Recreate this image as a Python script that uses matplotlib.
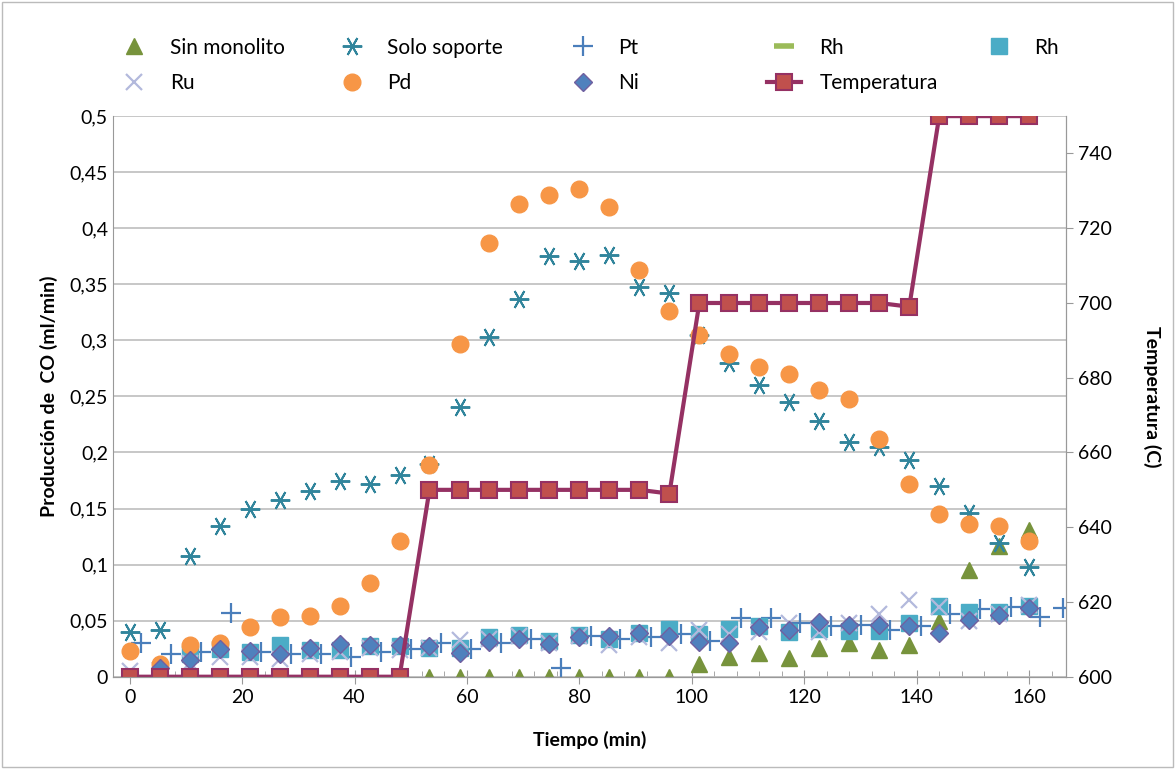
import numpy as np
import matplotlib
matplotlib.use("Agg")
import matplotlib.pyplot as plt
from matplotlib.ticker import FuncFormatter, MultipleLocator

nan = np.nan
tiempo = [0, 5.33, 10.67, 16, 21.33, 26.67, 32, 37.33, 42.67, 48, 53.33, 58.67, 64, 69.33, 74.67, 80,
          85.33, 90.67, 96, 101.33, 106.67, 112, 117.33, 122.67, 128, 133.33, 138.67, 144, 149.33, 154.67, 160]
tiempo_pt = [2, 7.3, 12.7, 18, 23.3, 28.7, 34, 39.3, 44.7, 50, 55.3, 60.7, 66, 71.3, 76.7, 82,
             87.3, 92.7, 98, 103.3, 108.7, 114, 119.3, 124.7, 130, 135.3, 140.7, 146, 151.3, 156.7, 162, 166]

sin_monolito = [nan]*10 + [0, 0, 0, 0, 0, 0, 0, 0, 0, 0.011, 0.018, 0.021, 0.017, 0.026, 0.030, 0.024,
                           0.028, 0.050, 0.095, 0.117, 0.131]
solo_soporte = [0.040, 0.042, 0.108, 0.134, 0.150, 0.158, 0.166, 0.175, 0.172, 0.180, 0.190, 0.241, 0.303,
                0.337, 0.375, 0.371, 0.376, 0.348, 0.342, 0.305, 0.280, 0.260, 0.245, 0.228, 0.209, 0.205,
                0.193, 0.170, 0.146, 0.119, 0.098]
pt = [0.030, 0.020, 0.022, 0.057, 0.022, 0.020, 0.020, 0.018, 0.022, 0.025, 0.030, 0.025, 0.030, 0.034,
      0.008, 0.036, 0.034, 0.035, 0.038, 0.032, 0.052, 0.052, 0.048, 0.045, 0.046, 0.042, 0.045, 0.056,
      0.060, 0.062, 0.053, 0.061]
rh_linea = [nan]*31
rh = [nan, nan, 0.020, 0.025, 0.022, 0.028, 0.024, 0.024, 0.027, 0.027, 0.026, 0.026, 0.035, 0.037, 0.032,
      0.037, 0.034, 0.039, 0.043, 0.038, 0.043, 0.045, 0.040, 0.043, 0.041, 0.041, 0.048, 0.063, 0.058,
      0.058, 0.063]
ru = [0.005, 0.006, 0.012, 0.018, 0.018, 0.016, 0.020, 0.022, 0.026, 0.024, 0.026, 0.033, 0.034, 0.036,
      0.030, 0.036, 0.028, 0.035, 0.030, 0.042, 0.038, 0.040, 0.048, 0.040, 0.048, 0.056, 0.068, 0.062,
      0.050, 0.056, 0.064]
pd_ = [0.023, 0.011, 0.028, 0.030, 0.044, 0.053, 0.054, 0.063, 0.084, 0.121, 0.189, 0.297, 0.387, 0.422,
       0.430, 0.435, 0.419, 0.363, 0.326, 0.305, 0.288, 0.276, 0.270, 0.256, 0.248, 0.212, 0.172, 0.145,
       0.136, 0.134, 0.121]
ni = [nan, 0.008, 0.015, 0.025, 0.023, 0.020, 0.026, 0.029, 0.028, 0.028, 0.027, 0.021, 0.031, 0.034,
      0.029, 0.035, 0.036, 0.039, 0.036, 0.031, 0.030, 0.044, 0.042, 0.049, 0.046, 0.046, 0.045, 0.039,
      0.051, 0.055, 0.061]
temperatura = [600]*10 + [650]*8 + [649] + [700]*7 + [699] + [750]*4

plt.rcParams['font.family'] = ['Lato', 'DejaVu Sans']
fig = plt.figure(figsize=(11.75, 7.69), dpi=100)
ax = fig.add_axes([0.096, 0.12, 0.811, 0.729])
ax2 = ax.twinx()

ms = 11
h1, = ax.plot(tiempo, sin_monolito, ls='none', marker='^', ms=ms, color='#77933C', label='Sin monolito')
h2, = ax.plot(tiempo, solo_soporte, ls='none', marker=(6, 2, 90), ms=14, mew=1.4, color='#31859C', label='Solo soporte')
h3, = ax.plot(tiempo_pt, pt, ls='none', marker='+', ms=14, mew=1.6, color='#4A7EBB', label='Pt')
h4, = ax.plot(tiempo, rh_linea, ls='none', marker='_', ms=14, mew=4, color='#9BBB59', label='Rh')
h5, = ax.plot(tiempo, rh, ls='none', marker='s', ms=ms, color='#4BACC6', label='Rh')
h6, = ax.plot(tiempo, ru, ls='none', marker='x', ms=ms, mew=1.6, color='#B3B9DC', label='Ru')
h7, = ax.plot(tiempo, pd_, ls='none', marker='o', ms=12, color='#F79646', label='Pd')
h8, = ax.plot(tiempo, ni, ls='none', marker='D', ms=9, color='#4F81BD', mec='#7060A0', mew=1, label='Ni')
h9, = ax2.plot(tiempo, temperatura, color='#953163', lw=3, marker='s', ms=12, mfc='#C0504D',
               mec='#953163', mew=1.5, label='Temperatura')

ax.set_xlim(-3, 166.5)
ax.set_ylim(0, 0.5)
ax2.set_ylim(600, 750)
ax.yaxis.set_major_locator(MultipleLocator(0.05))
ax.yaxis.set_major_formatter(FuncFormatter(lambda v, p: ('%g' % round(v, 2)).replace('.', ',')))
ax.xaxis.set_major_locator(MultipleLocator(20))
ax.xaxis.set_minor_locator(MultipleLocator(4))
ax2.set_yticks(range(600, 741, 20))
ax.grid(axis='y', color='#BEBEBE', lw=1.2)
ax.set_axisbelow(True)
for a in (ax, ax2):
    for s in a.spines.values():
        s.set_color('#999999')
    a.spines['top'].set_visible(False)
    a.tick_params(labelsize=14, colors='#000000', direction='in', length=5, color='#999999')
ax.spines['left'].set_visible(False)
ax.tick_params(axis='y', length=0)
ax.tick_params(axis='x', which='minor', direction='in', length=4, color='#999999')
ax.tick_params(axis='x', which='major', direction='inout', length=10)
ax2.tick_params(axis='y', direction='out', length=5)
ax.set_xlabel('Tiempo (min)', fontsize=14, fontweight='bold', labelpad=18)
ax.set_ylabel('Producción de  CO (ml/min)', fontsize=14, fontweight='bold', labelpad=8)
ax2.set_ylabel('Temperatura (C)', fontsize=14, fontweight='bold', rotation=-90, labelpad=36)

columns = [([h1, h6], 0.093), ([h2, h7], 0.278), ([h3, h8], 0.475), ([h4, h9], 0.646), ([h5], 0.829)]
for hs, xpos in columns:
    fig.legend(handles=hs, loc='upper left', bbox_to_anchor=(xpos, 0.962), frameon=False,
               fontsize=15, handlelength=1.6, handletextpad=0.9, labelspacing=0.75,
               borderaxespad=0)
fig.patches.append(plt.Rectangle((0.002, 0.002), 0.996, 0.996, transform=fig.transFigure,
                                 fill=False, ec='#BBBBBB', lw=1))
fig.savefig('out.png', dpi=100)
